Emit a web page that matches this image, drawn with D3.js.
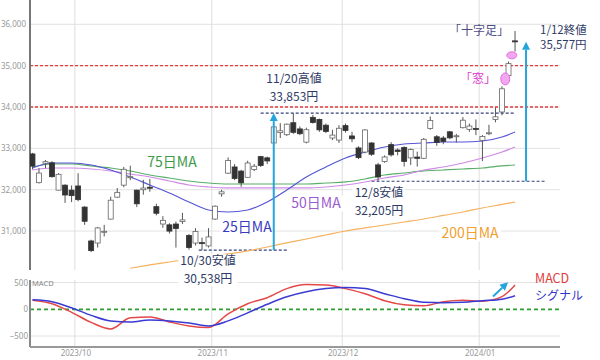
<!DOCTYPE html>
<html>
<head>
<meta charset="utf-8">
<script src="https://cdn.jsdelivr.net/npm/d3@7"></script>
<style>
  body { margin: 0; background: #fff; }
  svg { display: block; font-family: "Noto Sans CJK JP", "Noto Sans", sans-serif; }
</style>
</head>
<body>
<svg id="chart" width="600" height="360"></svg>
<script>
// trading days shown (Nikkei 225, daily)
const dates = [
  "2023-09-21","2023-09-22","2023-09-25","2023-09-26","2023-09-27","2023-09-28","2023-09-29",
  "2023-10-02","2023-10-03","2023-10-04","2023-10-05","2023-10-06","2023-10-10","2023-10-11","2023-10-12","2023-10-13",
  "2023-10-16","2023-10-17","2023-10-18","2023-10-19","2023-10-20","2023-10-23","2023-10-24","2023-10-25","2023-10-26",
  "2023-10-27","2023-10-30","2023-10-31",
  "2023-11-01","2023-11-02","2023-11-06","2023-11-07","2023-11-08","2023-11-09","2023-11-10","2023-11-13","2023-11-14",
  "2023-11-15","2023-11-16","2023-11-17","2023-11-20","2023-11-21","2023-11-22","2023-11-24","2023-11-27","2023-11-28",
  "2023-11-29","2023-11-30",
  "2023-12-01","2023-12-04","2023-12-05","2023-12-06","2023-12-07","2023-12-08","2023-12-11","2023-12-12","2023-12-13",
  "2023-12-14","2023-12-15","2023-12-18","2023-12-19","2023-12-20","2023-12-21","2023-12-22","2023-12-25","2023-12-26",
  "2023-12-27","2023-12-28","2023-12-29",
  "2024-01-04","2024-01-05","2024-01-09","2024-01-10","2024-01-11","2024-01-12"
];
const open = [
  32865,32170,32640,32650,31990,32110,31990,
  32090,31580,30760,30710,30980,31290,31820,32110,32300,31990,32000,32060,31590,31170,31150,31170,31230,30890,30710,30720,30640,
  31290,31900,32400,32550,32450,32300,32490,32800,32770,33130,33380,33330,33620,33470,33150,33750,33700,33560,33250,33200,
  33550,33300,33010,32910,33130,32600,32680,33090,32960,33020,32770,32790,32760,33480,33280,33250,33400,33300,33500,33460,33480,
  33193,33360,33700,33880,34758,35600
];
const high = [
  32890,32520,32720,32690,32400,32130,32100,
  32400,31600,30790,31100,31150,31830,32040,32550,32580,32000,32240,32260,31660,31360,31190,31230,31440,30930,31070,30840,31070,
  31620,32000,32780,32620,32480,32700,32620,32820,32800,33540,33610,33600,33853,33530,33500,33810,33720,33600,33450,33560,
  33600,33400,33050,33460,33150,32650,32830,33150,33000,33050,33000,32920,33250,33770,33320,33300,33420,33350,33755,33600,33700,
  33320,33570,33990,34500,35100,35839
];
const low = [
  32490,32150,32520,32290,31980,31680,31700,
  31720,31150,30490,30600,30870,31280,31800,32060,32230,31580,31880,31950,31380,31080,30940,30600,31170,30550,30650,30538,30600,
  31270,31830,32380,32230,32070,32290,32450,32550,32620,33100,33250,33300,33350,33320,33120,33600,33400,33370,33200,33130,
  33380,33150,32740,32880,32820,32205,32650,32800,32830,32560,32600,32560,32740,33450,33060,33100,33220,33140,33480,33400,33320,
  32693,33320,33630,33800,34712,35340
];
const close = [
  32571,32402,32678,32315,32372,31872,31857,
  31759,31237,30526,31075,30994,31746,31936,32494,32315,31659,32040,32042,31430,31259,30999,31062,31269,30601,30991,30696,30858,
  31601,31949,32708,32271,32166,32646,32568,32585,32695,33519,33424,33585,33388,33354,33451,33625,33447,33408,33321,33486,
  33431,33231,32775,33445,32858,32307,32791,32843,32926,32686,32970,32758,33219,33675,33140,33169,33254,33305,33681,33539,33464,
  33288,33377,33763,34441,35049,35577
];

// moving averages and MACD at these days
const sampleDates = [
  "2023-09-21","2023-09-26","2023-09-29","2023-10-04","2023-10-10","2023-10-13","2023-10-18","2023-10-23","2023-10-26",
  "2023-10-31","2023-11-06","2023-11-09","2023-11-14","2023-11-17","2023-11-22","2023-11-28","2023-12-01","2023-12-06",
  "2023-12-11","2023-12-14","2023-12-19","2023-12-22","2023-12-27","2024-01-04","2024-01-10","2024-01-12"
];
const ma25 = [32525,32646,32646,32598,32477,32308,32114,31921,31703,31510,31461,31510,31703,31993,32308,32550,
              32767,32912,33033,33106,33130,33154,33154,33178,33275,33396];
const ma50 = [32477,32525,32525,32501,32453,32380,32308,32211,32114,32066,32042,32042,32042,32042,32042,32066,
              32114,32187,32283,32356,32477,32549,32646,32767,32912,33033];
const ma75 = [32549,32622,32622,32574,32525,32453,32356,32283,32211,32162,32138,32138,32138,32138,32138,32162,
              32187,32259,32356,32404,32453,32477,32501,32525,32574,32598];
const ma200 = [null,null,null,null,null,30100,30180,30252,30325,30397,30446,30519,30615,30712,30808,30905,
               31002,31075,31147,31219,31292,31377,31461,31558,31643,31703];
const macd = [170,104,-57,-245,-368,-160,-142,-236,-311,-340,-85,104,217,387,462,453,
              387,292,160,85,66,142,170,151,236,455];
const signal = [179,142,28,-113,-217,-236,-198,-217,-255,-311,-217,-66,94,236,330,387,
                406,387,292,198,132,123,132,160,189,255];

const priceTicks = [31000,32000,33000,34000,35000,36000];
const macdTicks = [-500,0,500];
const monthTicks = ["2023-10-02","2023-11-01","2023-12-01","2024-01-04"];
const monthLabels = ["2023/10","2023/11","2023/12","2024/01"];
const redLevels = [34000,35000];

const svg = d3.select("#chart");
const left = 30, right = 560;

const x = d3.scaleBand().domain(dates).range([29.2, 518.3]).paddingInner(0).paddingOuter(0);
const cx = d => x(d) + x.bandwidth() / 2;
const y = d3.scaleLinear().domain([30058, 36588]).range([270, 0]);
const ym = d3.scaleLinear().domain([-705, 548]).range([347, 280]);

svg.append("defs").append("clipPath").attr("id", "mainClip")
  .append("rect").attr("x", left).attr("y", 0).attr("width", right - left).attr("height", 270);

// ---- main panel grid
const grid = svg.append("g");
grid.selectAll(".hg").data(priceTicks).join("line")
  .attr("x1", left).attr("x2", right).attr("y1", d => y(d)).attr("y2", d => y(d))
  .attr("stroke", "#e2e2e2");
grid.selectAll(".vg").data(monthTicks).join("line")
  .attr("x1", d => x(d)).attr("x2", d => x(d)).attr("y1", 0).attr("y2", 270)
  .attr("stroke", "#dedede");

svg.append("g").selectAll("line").data(redLevels).join("line")
  .attr("x1", left).attr("x2", right).attr("y1", d => y(d)).attr("y2", d => y(d))
  .attr("stroke", "#e23b3b").attr("stroke-width", 1.3).attr("stroke-dasharray", "3,2");

// price axis
svg.append("g").attr("transform", `translate(${left - 1},0)`)
  .call(d3.axisLeft(y).tickValues(priceTicks).tickSize(0).tickFormat(d3.format(",")))
  .call(g => g.select(".domain").remove())
  .selectAll("text").attr("fill", "#999").attr("font-size", 8).attr("font-family", "Noto Sans");

svg.append("line").attr("x1", left).attr("x2", left).attr("y1", 0).attr("y2", 270)
  .attr("stroke", "#777").attr("stroke-width", 2);

// support / resistance dashes
const navyDash = [
  { from: cx("2023-11-13"), to: cx("2024-01-12"), v: 33853 },
  { from: x("2023-10-30"), to: cx("2023-11-17"), v: 30538 },
  { from: cx("2023-12-07"), to: cx("2024-01-12") + 30, v: 32205 }
];
svg.append("g").selectAll("line").data(navyDash).join("line")
  .attr("x1", d => d.from).attr("x2", d => d.to).attr("y1", d => y(d.v)).attr("y2", d => y(d.v))
  .attr("stroke", "#34427a").attr("stroke-width", 1.2).attr("stroke-dasharray", "3,2");

// ---- moving averages
const plot = svg.append("g").attr("clip-path", "url(#mainClip)");
const maLine = vals => d3.line()
  .defined((d, i) => vals[i] != null)
  .x((d, i) => cx(sampleDates[i]))
  .y((d, i) => y(vals[i]))
  .curve(d3.curveMonotoneX)(sampleDates);
[[ma200, "#f4b15e"], [ma75, "#5aae68"], [ma50, "#cf8ae8"], [ma25, "#5656d6"]].forEach(([vals, col]) => {
  plot.append("path").attr("d", maLine(vals)).attr("fill", "none")
    .attr("stroke", col).attr("stroke-width", 1.2);
});

// ---- candles
const candles = dates.map((d, i) => ({ d, o: open[i], h: high[i], l: low[i], c: close[i] }));
const bw = 5;
const cg = plot.append("g");
cg.selectAll(".wick").data(candles).join("line")
  .attr("x1", d => cx(d.d)).attr("x2", d => cx(d.d))
  .attr("y1", d => y(d.h)).attr("y2", d => y(d.l))
  .attr("stroke", "#555").attr("stroke-width", 1);
cg.selectAll(".body").data(candles).join("rect")
  .attr("x", d => cx(d.d) - bw / 2).attr("width", bw)
  .attr("y", d => y(Math.max(d.o, d.c)))
  .attr("height", d => Math.max(1, Math.abs(y(d.o) - y(d.c))))
  .attr("fill", d => d.c >= d.o ? "#fff" : "#333")
  .attr("stroke", d => d.c >= d.o ? "#666" : "#333").attr("stroke-width", 0.8);

// gap markers
const gaps = [
  { d1: "2024-01-10", d2: "2024-01-11", v: 34680, rx: 4.5, ry: 6 },
  { d1: "2024-01-11", d2: "2024-01-12", v: 35250, rx: 5, ry: 3.5 }
];
svg.append("g").selectAll("ellipse").data(gaps).join("ellipse")
  .attr("cx", d => (cx(d.d1) + cx(d.d2)) / 2).attr("cy", d => y(d.v))
  .attr("rx", d => d.rx).attr("ry", d => d.ry)
  .attr("fill", "#f3a6f0").attr("stroke", "#e070e0").attr("stroke-width", 1);

// ---- MACD panel
const mg = svg.append("g");
mg.selectAll(".hg").data([500, -500]).join("line")
  .attr("x1", left).attr("x2", right).attr("y1", d => ym(d)).attr("y2", d => ym(d))
  .attr("stroke", "#e2e2e2");
mg.selectAll(".vg").data(monthTicks).join("line")
  .attr("x1", d => x(d)).attr("x2", d => x(d)).attr("y1", 280).attr("y2", 347)
  .attr("stroke", "#dedede");
mg.append("line").attr("x1", left).attr("x2", right).attr("y1", ym(0)).attr("y2", ym(0))
  .attr("stroke", "#2f9e2f").attr("stroke-width", 1.8).attr("stroke-dasharray", "4,3");

const macdLine = vals => d3.line()
  .x((d, i) => cx(sampleDates[i])).y((d, i) => ym(vals[i]))
  .curve(d3.curveMonotoneX)(sampleDates);
mg.append("path").attr("d", macdLine(macd)).attr("fill", "none").attr("stroke", "#e44848").attr("stroke-width", 1.5);
mg.append("path").attr("d", macdLine(signal)).attr("fill", "none").attr("stroke", "#3b3bd4").attr("stroke-width", 1.5);

svg.append("g").attr("transform", `translate(${left + 1},0)`)
  .call(d3.axisLeft(ym).tickValues(macdTicks).tickSize(0))
  .call(g => g.select(".domain").remove())
  .selectAll("text").attr("fill", "#999").attr("font-size", 8).attr("font-family", "Noto Sans");
svg.append("text").attr("x", left + 2).attr("y", 286).text("MACD")
  .attr("font-size", 7.5).attr("fill", "#888").attr("font-family", "Noto Sans");

svg.append("line").attr("x1", left).attr("x2", left).attr("y1", 280).attr("y2", 347)
  .attr("stroke", "#888").attr("stroke-width", 2);
svg.append("line").attr("x1", left).attr("x2", right).attr("y1", 347).attr("y2", 347)
  .attr("stroke", "#999").attr("stroke-width", 2);

// date axis
const xAxis = svg.append("g").attr("transform", `translate(${-x.bandwidth() / 2 + 1},347)`)
  .call(d3.axisBottom(x).tickValues(monthTicks).tickSize(0).tickFormat((d, i) => monthLabels[i]));
xAxis.select(".domain").remove();
xAxis.selectAll("text").attr("fill", "#999").attr("font-size", 8).attr("font-family", "Noto Sans");

// ---- annotations: white boxes in one layer, texts in another
const bgLayer = svg.append("g");
const textLayer = svg.append("g");
function label(lines, xc, yb, color, size, opts = {}) {
  const lh = opts.lh || size * 1.25;
  const centred = opts.anchor !== "start";
  const t = textLayer.append("text").attr("font-size", size).attr("fill", color);
  lines.forEach((s, i) => {
    const ln = typeof s === "string" ? { t: s } : s;
    const sp = t.append("tspan").attr("x", xc).attr("y", yb + i * lh).text(ln.t)
      .attr("fill", ln.fill || null).attr("font-size", ln.size || null);
    if (centred) sp.attr("x", xc - sp.node().getComputedTextLength() / 2);
  });
  if (opts.bg) {
    const bb = t.node().getBBox();
    bgLayer.append("rect")
      .attr("x", bb.x - 2).attr("width", bb.width + 4)
      .attr("y", yb - size * 0.9).attr("height", (lines.length - 1) * lh + size * 1.15)
      .attr("fill", "#fff");
  }
}
const navy = "#2f3a66";
label(["11/20高値", "33,853円"], 294, 82.5, navy, 12, { lh: 18 });
label(["10/30安値", "30,538円"], 208, 265, navy, 12, { lh: 18, bg: true });
label(["12/8安値", "32,205円"], 379, 197, navy, 12, { lh: 18, bg: true });
label(["1/12終値", "35,577円"], 540, 34, navy, 11.5, { anchor: "start", lh: 14.5 });
label(["「十字足」"], 479, 35, "#4e4e86", 12);
label(["「窓」"], 478, 83, "#e040d0", 12);
label(["75日MA"], 172, 167, "#3c9a48", 14, { bg: true });
label(["25日MA"], 247, 232, "#3a3ac0", 14, { bg: true });
label(["50日MA"], 316, 208, "#9a5cd0", 14, { bg: true });
label(["200日MA"], 470, 238, "#f0a030", 14, { bg: true });
label(["MACD", { t: "シグナル", fill: "#3434cc", size: 12 }], 535, 283, "#e03c3c", 12.5,
      { anchor: "start", lh: 16.5 });

// cyan arrows
const cyan = "#26a4dc";
function arrow(x1, y1, x2, y2) {
  const ang = Math.atan2(y2 - y1, x2 - x1);
  const len = 8, half = 4;
  const bx = x2 - len * Math.cos(ang), by = y2 - len * Math.sin(ang);
  svg.append("line").attr("x1", x1).attr("y1", y1).attr("x2", bx).attr("y2", by)
    .attr("stroke", cyan).attr("stroke-width", 2);
  svg.append("path")
    .attr("d", `M${x2},${y2}L${bx + half * Math.sin(ang)},${by - half * Math.cos(ang)}L${bx - half * Math.sin(ang)},${by + half * Math.cos(ang)}Z`)
    .attr("fill", cyan);
}
arrow(cx("2023-11-15"), y(30538), cx("2023-11-15"), y(33853));
arrow(cx("2024-01-12") + 11, y(32205), cx("2024-01-12") + 11, y(35577));
arrow(cx("2024-01-10") - 9, ym(240), cx("2024-01-12") - 7, ym(505));
</script>
</body>
</html>
